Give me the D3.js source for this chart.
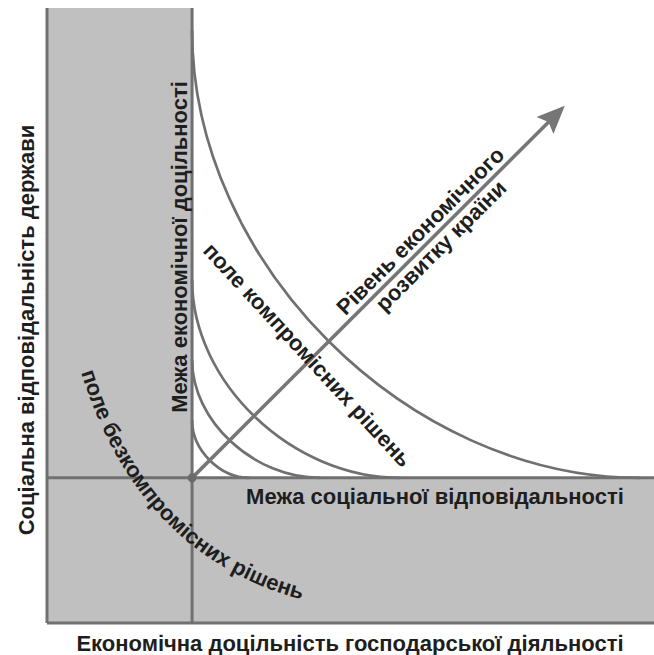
<!DOCTYPE html>
<html>
<head>
<meta charset="utf-8">
<script src="https://cdn.jsdelivr.net/npm/d3@7/dist/d3.min.js"></script>
<style>
  html, body { margin: 0; padding: 0; background: #fff; }
  svg text { font-family: "Liberation Sans", Arial, sans-serif; font-weight: bold; fill: #1e1e1e; }
</style>
</head>
<body>
<svg id="chart" width="654" height="655"></svg>
<script>
// limits, in 0..100 units of each axis
var econLimit = 23.9;     // Межа економічної доцільності (x)
var socialLimit = 23.6;   // Межа соціальної відповідальності (y)

// compromise curves: where each one leaves the vertical limit and meets the horizontal one
var curveStartY = [96.4, 55.8, 42.8, 33.0];
var curveEndX = [97.7, 58.2, 45.0, 33.4];

// arrow "Рівень економічного розвитку країни"
var arrowEnd = [85.3, 84.1];

var labels = {
	yTitle: "Соціальна відповідальність держави",
	xTitle: "Економічна доцільність господарської діяльності",
	econ: "Межа економічної доцільності",
	social: "Межа соціальної відповідальності",
	compromise: "поле компромісних рішень",
	noCompromise: ["поле безкомпромісних", "рішень"],
	arrow1: "Рівень економічного",
	arrow2: "розвитку країни"
};

var LINE_COLOR = "#707070";
var FILL_COLOR = "#c0c0c0";
var FONT_SIZE = "22px";

var svg = d3.select("#chart");

var x = d3.scaleLinear().domain([0, 100]).range([47, 654]);
var y = d3.scaleLinear().domain([0, 100]).range([623, 8]);

// gray zones
svg.append("rect")
	.attr("x", x(0)).attr("y", y(100))
	.attr("width", x(econLimit) - x(0)).attr("height", y(0) - y(100))
	.attr("fill", FILL_COLOR);
svg.append("rect")
	.attr("x", x(0)).attr("y", y(socialLimit))
	.attr("width", x(100) - x(0)).attr("height", y(0) - y(socialLimit))
	.attr("fill", FILL_COLOR);

// frame + limit lines
var lines = [
	[[0, 0], [0, 100]],
	[[0, 0], [100, 0]],
	[[econLimit, 0], [econLimit, 100]],
	[[0, socialLimit], [100, socialLimit]]
];
svg.selectAll("line.lim")
	.data(lines)
	.enter().append("line")
	.attr("class", "lim")
	.attr("x1", function(d) { return x(d[0][0]); })
	.attr("y1", function(d) { return y(d[0][1]); })
	.attr("x2", function(d) { return x(d[1][0]); })
	.attr("y2", function(d) { return y(d[1][1]); })
	.attr("stroke", LINE_COLOR)
	.attr("stroke-width", 3);

// curves, tangent to both limits
var K = 0.52;
svg.selectAll("path.curve")
	.data(curveStartY.map(function(s, i) { return { sy: s, ex: curveEndX[i] }; }))
	.enter().append("path")
	.attr("class", "curve")
	.attr("fill", "none")
	.attr("stroke", LINE_COLOR)
	.attr("stroke-width", 2.7)
	.attr("d", function(d) {
		var x0 = x(econLimit), y0 = y(d.sy);
		var x1 = x(d.ex), y1 = y(socialLimit);
		var p = d3.path();
		p.moveTo(x0, y0);
		p.bezierCurveTo(x0, y0 + K * (y1 - y0), x1 - K * (x1 - x0), y1, x1, y1);
		return p.toString();
	});

// arrow
var ox = x(econLimit), oy = y(socialLimit);
var tx = x(arrowEnd[0]), ty = y(arrowEnd[1]);
var angle = Math.atan2(ty - oy, tx - ox) * 180 / Math.PI;
var arrowLen = Math.sqrt((tx - ox) * (tx - ox) + (ty - oy) * (ty - oy));

var arrow = svg.append("g")
	.attr("transform", "translate(" + ox + "," + oy + ") rotate(" + angle + ")");
arrow.append("line")
	.attr("x1", 0).attr("y1", 0)
	.attr("x2", arrowLen - 20).attr("y2", 0)
	.attr("stroke", "#767676")
	.attr("stroke-width", 3.6);
arrow.append("path")
	.attr("d", "M" + arrowLen + ",0L" + (arrowLen - 28) + ",-12L" + (arrowLen - 23) + ",0L" + (arrowLen - 28) + ",12Z")
	.attr("fill", "#767676");
arrow.append("text")
	.attr("x", 336).attr("y", -6)
	.attr("text-anchor", "middle")
	.style("font-size", FONT_SIZE)
	.text(labels.arrow1);
arrow.append("text")
	.attr("x", 340).attr("y", 19)
	.attr("text-anchor", "middle")
	.style("font-size", FONT_SIZE)
	.text(labels.arrow2);

svg.append("circle")
	.attr("cx", ox).attr("cy", oy).attr("r", 4.5)
	.attr("fill", "#6a6a6a");

// axis titles
svg.append("text")
	.attr("transform", "translate(34," + 330 + ") rotate(-90)")
	.attr("text-anchor", "middle")
	.style("font-size", FONT_SIZE)
	.text(labels.yTitle);
svg.append("text")
	.attr("x", 350).attr("y", 651)
	.attr("text-anchor", "middle")
	.style("font-size", FONT_SIZE)
	.text(labels.xTitle);

// limit labels
svg.append("text")
	.attr("transform", "translate(" + (ox - 5) + ",247) rotate(-90)")
	.attr("text-anchor", "middle")
	.style("font-size", FONT_SIZE)
	.text(labels.econ);
svg.append("text")
	.attr("x", 435).attr("y", oy + 26)
	.attr("text-anchor", "middle")
	.style("font-size", FONT_SIZE)
	.text(labels.social);

// zone labels
svg.append("text")
	.attr("transform", "translate(302,360) rotate(47.3)")
	.attr("text-anchor", "middle")
	.style("font-size", FONT_SIZE)
	.text(labels.compromise);

// curved label, split in two pieces along the same path
var arcPath = svg.append("path")
	.attr("id", "arcPath")
	.attr("fill", "none")
	.attr("d", "M78,362Q135,560 312,602");
var pathLen = arcPath.node().getTotalLength();

var fullText = labels.noCompromise.join(" ");
var measure = svg.append("text").style("font-size", FONT_SIZE).text(fullText);
var fullW = measure.node().getComputedTextLength();
var secondStart = measure.node().getSubStringLength(0, labels.noCompromise[0].length + 1);
measure.remove();

var start = (pathLen - fullW) / 2;
var offsets = [start, start + secondStart];

svg.selectAll("text.arc")
	.data(labels.noCompromise)
	.enter().append("text")
	.attr("class", "arc")
	.style("font-size", FONT_SIZE)
	.append("textPath")
	.attr("href", "#arcPath")
	.attr("startOffset", function(d, i) { return offsets[i]; })
	.text(function(d) { return d; });
</script>
</body>
</html>
